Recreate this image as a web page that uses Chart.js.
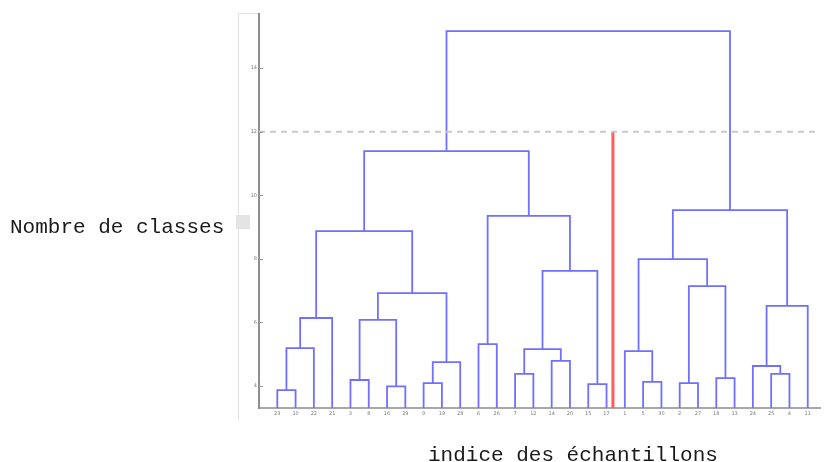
<!DOCTYPE html>
<html>
<head>
<meta charset="utf-8">
<script src="https://cdn.jsdelivr.net/npm/chart.js@4/dist/chart.umd.min.js"></script>
<style>
  html, body { margin: 0; padding: 0; background: #fff; }
  #wrap { position: relative; width: 824px; height: 462px; overflow: hidden; }
  #c { position: absolute; left: 0; top: 0; }
  .lbl { position: absolute; font-family: "Liberation Mono", "Courier New", monospace; font-size: 21px;
         line-height: 21px; color: #1a1a1a; white-space: nowrap; }
  .frame { position: absolute; background: #e2e2e2; }
</style>
</head>
<body>
<div id="wrap">
  <div class="frame" style="left:238px;top:13px;width:1px;height:408px"></div>
  <div class="frame" style="left:238px;top:13px;width:22px;height:1px"></div>
  <canvas id="c" width="824" height="462"></canvas>
  <div class="lbl" style="left:10px;top:217px">Nombre de classes</div>
  <div style="position:absolute;left:236px;top:215px;width:14px;height:14px;background:#e4e4e4"></div>
  <div class="lbl" style="left:428px;top:445px">indice des échantillons</div>
</div>
<script>
// Leaf labels, in dendrogram order (left to right)
const leafLabels = ['23','10','22','21','3','8','16','29','9','19','28','6','26','7','12',
                    '14','20','15','17','1','5','30','2','27','18','13','24','25','4','11'];

// Linkage: leaves are nodes 0..29 (by position), merge k creates node 30+k
const mergeLeft   = [0, 30, 31, 4, 6, 33, 8, 36, 35, 32, 11, 13, 15, 41, 17, 43, 40, 39,
                     20, 19, 22, 24, 50, 49, 27, 26, 55, 53, 47];
const mergeRight  = [1, 2, 3, 5, 7, 34, 9, 10, 37, 38, 12, 14, 16, 42, 18, 44, 45, 46,
                     21, 48, 23, 25, 51, 52, 28, 54, 29, 56, 57];
const mergeHeight = [3.87, 5.19, 6.14, 4.19, 3.99, 6.08, 4.09, 4.75, 6.92, 8.87, 5.32, 4.38, 4.79, 5.16,
                     4.06, 7.62, 9.35, 11.39, 4.13, 5.10, 4.09, 4.25, 7.14, 7.99, 4.38, 4.63, 6.52, 9.53, 15.16];

const yTicks = [4, 6, 8, 10, 12, 14];
const cutLevel = 12;       // dashed cut line
const cutPosition = 19.35; // red separator between leaves 19 and 20

const yMin = 3.31, yMax = 15.70;
const xMin = 0, xMax = 30.67;

// node coordinates
const nodeX = [], nodeY = [];
leafLabels.forEach((_, i) => { nodeX.push(i + 1); nodeY.push(0); });
const links = [];
mergeLeft.forEach((l, k) => {
  const r = mergeRight[k], h = mergeHeight[k];
  links.push({
    data: [{x: nodeX[l], y: nodeY[l]}, {x: nodeX[l], y: h}, {x: nodeX[r], y: h}, {x: nodeX[r], y: nodeY[r]}],
    borderColor: 'rgb(112,112,255)', borderWidth: 1.8, pointRadius: 0, fill: false, tension: 0
  });
  nodeX.push((nodeX[l] + nodeX[r]) / 2);
  nodeY.push(h);
});

const datasets = [
  { data: [{x: xMin, y: cutLevel}, {x: xMax, y: cutLevel}], borderColor: '#c9c9c9', borderWidth: 2,
    borderDash: [6, 5], pointRadius: 0, fill: false },
  ...links,
  { data: [{x: cutPosition, y: 0}, {x: cutPosition, y: cutLevel}], borderColor: '#ff5c5c', borderWidth: 3,
    pointRadius: 0, fill: false }
];

// small inward tick marks on the value axis
const inwardTicks = {
  id: 'inwardTicks',
  afterDatasetsDraw(chart) {
    const s = chart.scales.y, ctx = chart.ctx;
    ctx.save();
    ctx.strokeStyle = '#9a9a9a';
    ctx.lineWidth = 1;
    s.ticks.forEach(t => {
      const py = Math.round(s.getPixelForValue(t.value)) + 0.5;
      ctx.beginPath();
      ctx.moveTo(s.right, py);
      ctx.lineTo(s.right + 4, py);
      ctx.stroke();
    });
    ctx.restore();
  }
};

new Chart(document.getElementById('c'), {
  type: 'line',
  data: { datasets },
  plugins: [inwardTicks],
  options: {
    responsive: false,
    animation: false,
    layout: { padding: { left: 229, top: 14, right: 4, bottom: 0 } },
    plugins: { legend: { display: false }, tooltip: { enabled: false }, title: { display: false } },
    scales: {
      x: {
        type: 'linear', min: xMin, max: xMax,
        afterBuildTicks: s => { s.ticks = leafLabels.map((_, i) => ({ value: i + 1 })); },
        afterFit: s => { s.height = 54; },
        ticks: { autoSkip: false, maxRotation: 0, padding: 3, color: '#7a7a7a',
                 font: { size: 5, family: 'DejaVu Sans' },
                 callback: v => leafLabels[v - 1] },
        grid: { display: false, drawTicks: false },
        border: { display: true, color: '#a8a8a8', width: 2 }
      },
      y: {
        type: 'linear', min: yMin, max: yMax,
        afterBuildTicks: s => { s.ticks = yTicks.map(v => ({ value: v })); },
        afterFit: s => { s.width = 30; },
        ticks: { padding: 2, color: '#7a7a7a', font: { size: 5, family: 'DejaVu Sans' } },
        grid: { display: false, drawTicks: false },
        border: { display: true, color: '#8e8e8e', width: 2 }
      }
    }
  }
});
</script>
</body>
</html>
